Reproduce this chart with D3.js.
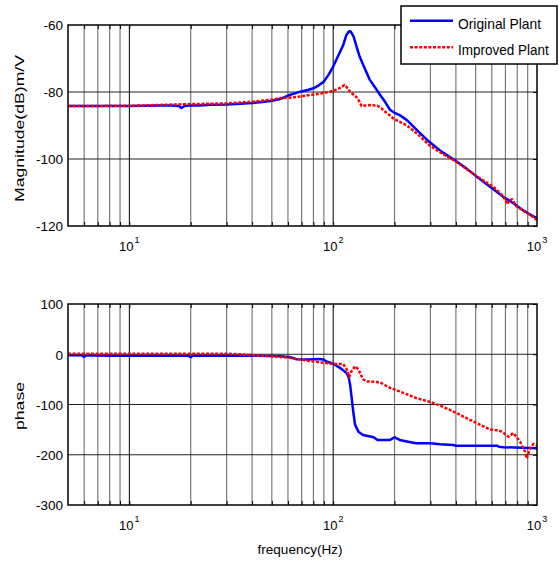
<!DOCTYPE html>
<html>
<head>
<meta charset="utf-8">
<script src="https://cdn.jsdelivr.net/npm/d3@7"></script>
<style>
  html, body { margin: 0; padding: 0; background: #fff; }
  svg { display: block; font-family: "Liberation Sans", Arial, sans-serif; }
</style>
</head>
<body>
<svg id="chart" width="559" height="565"></svg>
<script>
// ---------- DATA ----------
const seriesNames = ["Original Plant", "Improved Plant"];
const magYTicks = [-60, -80, -100, -120];
const phaseYTicks = [100, 0, -100, -200, -300];
const xTickDecades = [1, 2, 3];

const magOriginalFreq = [5, 6, 8, 10, 12, 14, 16, 17.5, 18, 18.6, 20, 22, 25, 30, 35, 40, 45, 50, 55, 61, 69, 75, 80, 85, 90, 95, 100, 105, 112, 116, 120, 122, 126, 130, 135, 142, 151, 160, 170, 180, 190, 200, 212, 230, 260, 295, 340, 389, 450, 520, 611, 680, 766, 850, 920, 1000];
const magOriginalDb = [-84.2, -84.2, -84.2, -84.2, -84.1, -84.0, -84.0, -84.2, -84.8, -84.2, -84.0, -84.0, -83.8, -83.7, -83.5, -83.3, -83.0, -82.6, -82.1, -80.9, -79.9, -79.4, -78.9, -78.0, -76.9, -74.8, -72.4, -69.6, -66.0, -63.0, -61.8, -62.0, -63.5, -66.3, -69.5, -72.6, -76.3, -78.5, -80.9, -83.0, -85.3, -86.2, -86.9, -88.4, -91.6, -94.8, -97.8, -100.1, -102.8, -105.8, -109.0, -111.2, -113.2, -115.2, -116.5, -117.7];

const magImprovedFreq = [5, 10, 15, 20, 25, 30, 40, 50, 55, 61, 70, 77, 90, 100, 108, 113.6, 118, 121, 126, 130.6, 134, 138, 145, 151.6, 165, 172, 180, 190, 197, 230, 260, 295, 340, 389, 440, 488, 550, 611, 660, 700, 715, 730, 755, 790, 850, 930, 1000];
const magImprovedDb = [-84.2, -84.1, -83.8, -83.6, -83.5, -83.4, -82.9, -82.3, -81.8, -81.7, -81.3, -80.9, -80.3, -79.7, -78.8, -77.9, -78.9, -79.9, -80.8, -81.6, -82.7, -84.2, -84.0, -83.9, -84.1, -84.8, -85.9, -87.0, -87.9, -90.0, -92.6, -95.8, -98.3, -100.3, -102.5, -104.5, -106.6, -108.3, -110.2, -112.2, -113.5, -112.4, -112.0, -114.0, -115.3, -116.8, -118.2];

const phaseOriginalFreq = [5, 5.8, 6.0, 6.2, 8, 10, 15, 19.5, 20, 20.5, 30, 40, 50, 55, 61, 66, 75, 85, 90, 92, 100, 108, 116, 119, 121, 123, 125.7, 128, 133, 140, 150, 158, 165, 190, 197, 201, 206, 212, 233, 255, 300, 334, 389, 400, 640, 650, 684, 1000];
const phaseOriginalDeg = [-2, -2, -5, -2, -3, -3, -3, -3, -6, -3, -3, -3, -3.5, -4, -5.3, -10, -10.6, -9.5, -10.6, -14, -19, -27, -37, -45, -60, -84, -117, -140, -154, -160.6, -163, -165, -170.6, -170.6, -167, -165, -168, -170.6, -174, -177, -177, -179, -180.6, -182, -182, -184, -185, -187];

const phaseImprovedFreq = [5, 10, 20, 30, 35, 40, 50, 61, 75, 90, 100, 112, 116.6, 120, 123, 128, 133, 140, 147, 160, 170, 190, 212, 255, 300, 334, 389, 488, 589, 640, 671, 725, 766, 826, 874, 890, 925, 960, 1000];
const phaseImprovedDeg = [1, 1, 1, 1, 0, -2, -4, -7, -13, -17, -19.5, -19.5, -30, -45, -34, -24, -30, -50, -54, -55, -56, -67, -74, -87, -95, -102, -114, -134, -150, -151, -154, -164, -157, -174, -194, -207, -187, -178.6, -182];

// ---------- LAYOUT ----------
const svg = d3.select("#chart");
const X0 = 68, X1 = 537;
const panels = [
  { top: 25, bottom: 226, domain: [-120, -60], ticks: magYTicks, label: "Magnitude(dB)m/V", labelLen: 147, labelY: 128.5,
    series: [[magOriginalFreq, magOriginalDb], [magImprovedFreq, magImprovedDb]], xLabelY: 251 },
  { top: 304, bottom: 505, domain: [-300, 100], ticks: phaseYTicks, label: "phase", labelLen: 48, labelY: 406,
    series: [[phaseOriginalFreq, phaseOriginalDeg], [phaseImprovedFreq, phaseImprovedDeg]], xLabelY: 530 }
];
const colors = ["#0000ff", "#ff0000"];
const dashes = [null, "3,1.6"];

const x = d3.scaleLog().domain([5, 1000]).range([X0, X1]);
const gridVals = x.ticks().filter(v => v > 5 && v < 1000);
const isDecade = v => Math.abs(Math.log10(v) - Math.round(Math.log10(v))) < 1e-9;

panels.forEach((p, i) => {
  const y = d3.scaleLinear().domain(p.domain).range([p.bottom, p.top]);
  const g = svg.append("g");

  g.append("rect").attr("x", X0).attr("y", p.top).attr("width", X1 - X0).attr("height", p.bottom - p.top).attr("fill", "#fff");

  // vertical grid
  g.selectAll(".vg").data(gridVals).enter().append("line")
    .attr("x1", d => x(d)).attr("x2", d => x(d))
    .attr("y1", p.top).attr("y2", p.bottom)
    .attr("stroke", d => isDecade(d) ? "#000" : "#7a7a7a")
    .attr("stroke-width", d => isDecade(d) ? 1 : 1.2);

  // horizontal grid
  g.selectAll(".hg").data(p.ticks.filter(t => t > p.domain[0] && t < p.domain[1])).enter().append("line")
    .attr("x1", X0).attr("x2", X1)
    .attr("y1", d => y(d)).attr("y2", d => y(d))
    .attr("stroke", "#222").attr("stroke-width", 1);

  // inner tick marks (top & bottom)
  g.append("g").attr("transform", `translate(0,${p.bottom})`)
    .call(d3.axisBottom(x).tickValues(gridVals).tickSize(-4).tickFormat(""))
    .call(a => a.select(".domain").remove());
  g.append("g").attr("transform", `translate(0,${p.top})`)
    .call(d3.axisTop(x).tickValues(gridVals).tickSize(-4).tickFormat(""))
    .call(a => a.select(".domain").remove());
  g.append("g").attr("transform", `translate(${X1},0)`)
    .call(d3.axisRight(y).tickValues(p.ticks).tickSize(-4).tickFormat(""))
    .call(a => a.select(".domain").remove());

  // y tick labels
  g.append("g").attr("transform", `translate(${X0},0)`)
    .call(d3.axisLeft(y).tickValues(p.ticks).tickSize(0).tickPadding(5).tickFormat(d => String(d)))
    .call(a => a.select(".domain").remove())
    .call(a => a.selectAll("text").attr("font-size", 13.5).attr("font-family", "Liberation Sans, Arial, sans-serif").attr("fill", "#000").attr("dy", "0.36em"));

  // x tick labels 10^n
  const xl = g.append("g");
  xTickDecades.forEach(k => {
    const t = xl.append("text").attr("x", x(Math.pow(10, k))).attr("y", p.xLabelY)
      .attr("text-anchor", "middle").attr("font-size", 13).attr("fill", "#000");
    t.append("tspan").text("10");
    t.append("tspan").attr("font-size", 9).attr("dy", -8).attr("dx", 1).text(String(k));
  });

  // clip
  const cid = "clip" + i;
  svg.append("clipPath").attr("id", cid).append("rect")
    .attr("x", X0).attr("y", p.top).attr("width", X1 - X0).attr("height", p.bottom - p.top);

  const line = d3.line().x(d => x(d[0])).y(d => y(d[1]));
  p.series.forEach((s, j) => {
    const pts = s[0].map((f, k) => [f, s[1][k]]);
    g.append("path").datum(pts).attr("d", line)
      .attr("clip-path", `url(#${cid})`)
      .attr("fill", "none").attr("stroke", colors[j]).attr("stroke-width", 2.5)
      .attr("stroke-dasharray", dashes[j]).attr("stroke-linejoin", "round");
  });

  // frame
  g.append("rect").attr("x", X0).attr("y", p.top).attr("width", X1 - X0).attr("height", p.bottom - p.top)
    .attr("fill", "none").attr("stroke", "#000").attr("stroke-width", 1.5);

  // y label
  g.append("text").attr("transform", `translate(24,${p.labelY}) rotate(-90)`)
    .attr("text-anchor", "middle").attr("font-size", 12.5).attr("fill", "#000")
    .attr("textLength", p.labelLen).attr("lengthAdjust", "spacingAndGlyphs")
    .text(p.label);
});

// x label
svg.append("text").attr("x", 300).attr("y", 554).attr("text-anchor", "middle")
  .attr("font-size", 13.5).attr("fill", "#000").text("frequency(Hz)");

// legend
const lg = svg.append("g");
lg.append("rect").attr("x", 401).attr("y", 6).attr("width", 156).attr("height", 58)
  .attr("fill", "#fff").attr("stroke", "#000").attr("stroke-width", 1.5);
const legY = [20.7, 47.3];
const legLen = [83, 90.7];
seriesNames.forEach((n, j) => {
  lg.append("line").attr("x1", 410).attr("x2", 453).attr("y1", legY[j]).attr("y2", legY[j])
    .attr("stroke", colors[j]).attr("stroke-width", 2.5).attr("stroke-dasharray", dashes[j]);
  lg.append("text").attr("x", 458).attr("y", legY[j] + 7.8).attr("font-size", 14.5).attr("fill", "#000")
    .attr("textLength", legLen[j]).attr("lengthAdjust", "spacingAndGlyphs").text(n);
});
</script>
</body>
</html>
